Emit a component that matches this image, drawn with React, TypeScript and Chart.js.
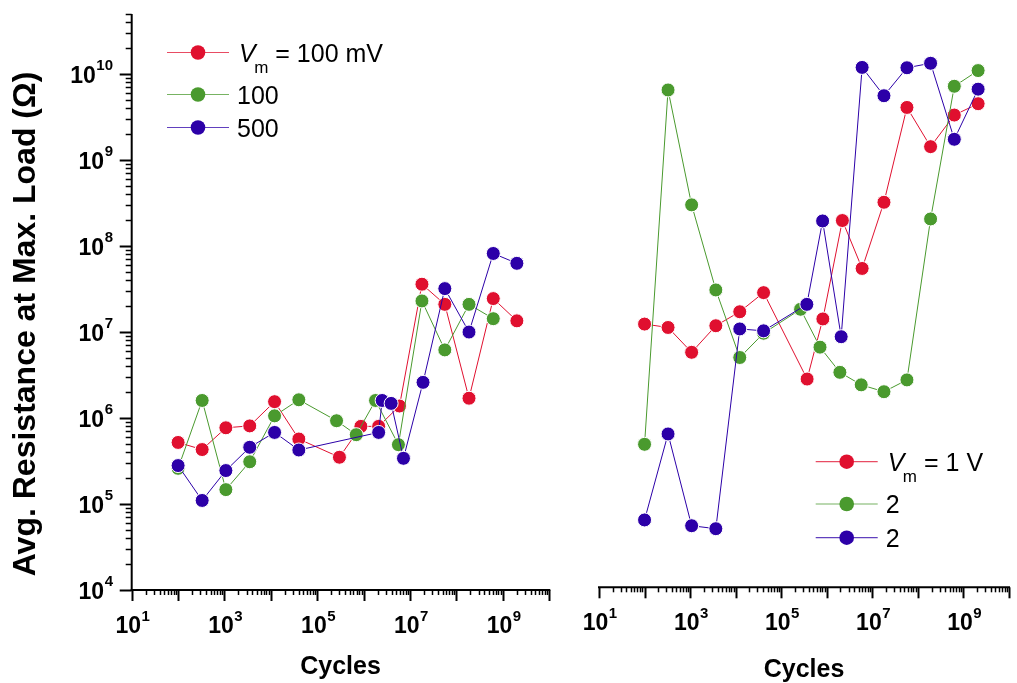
import React, { useEffect, useRef } from "react";
import { Chart, registerables } from "chart.js";

Chart.register(...registerables);

const FONT = '"Liberation Sans", Arial, Helvetica, sans-serif';
const RED = "#E0102F";
const GREEN = "#4A9A2E";
const BLUE = "#2C00A8";

// ---- Left panel: Vm = 100 mV, 100, 500 ----
const leftRedCycles = [100, 330, 1070, 3500, 1.2e4, 4e4, 3e5, 8.7e5, 2.1e6, 5.9e6, 1.8e7, 5.6e7, 1.86e8, 6.2e8, 2e9];
const leftRedValues = [5.2e5, 4.3e5, 7.7e5, 8.1e5, 1.55e6, 5.7e5, 3.5e5, 8e5, 8e5, 1.38e6, 3.6e7, 2.1e7, 1.7e6, 2.45e7, 1.35e7];

const leftGreenCycles = [100, 330, 1070, 3500, 1.2e4, 4e4, 2.6e5, 6.9e5, 1.8e6, 5.6e6, 1.8e7, 5.6e7, 1.86e8, 6.2e8];
const leftGreenValues = [2.6e5, 1.6e6, 1.47e5, 3.1e5, 1.06e6, 1.63e6, 9.3e5, 6.4e5, 1.6e6, 4.9e5, 2.3e7, 6.2e6, 2.1e7, 1.43e7];

const leftBlueCycles = [100, 330, 1070, 3500, 1.2e4, 4e4, 2.1e6, 2.5e6, 3.9e6, 7.2e6, 1.9e7, 5.6e7, 1.86e8, 6.2e8, 2e9];
const leftBlueValues = [2.8e5, 1.1e5, 2.45e5, 4.57e5, 6.8e5, 4.25e5, 6.8e5, 1.6e6, 1.48e6, 3.4e5, 2.6e6, 3.2e7, 1e7, 8.2e7, 6.3e7];

// ---- Right panel: Vm = 1 V, 2, 2 ----
const rightRedCycles = [100, 328, 1080, 3670, 1.23e4, 4.1e4, 3.7e5, 8.2e5, 2.2e6, 5.97e6, 1.8e7, 5.75e7, 1.9e8, 6.3e8, 2.1e9];
const rightRedValues = [1.15e7, 1.05e7, 5.4e6, 1.1e7, 1.6e7, 2.67e7, 2.64e6, 1.32e7, 1.84e8, 5.1e7, 3.0e8, 3.8e9, 1.33e9, 3.1e9, 4.2e9];

const rightGreenCycles = [100, 328, 1080, 3670, 1.23e4, 4.1e4, 2.66e5, 7.1e5, 1.94e6, 5.7e6, 1.8e7, 5.75e7, 1.9e8, 6.3e8, 2.1e9];
const rightGreenValues = [4.6e5, 6.07e9, 2.8e8, 2.87e7, 4.7e6, 9.0e6, 1.71e7, 6.2e6, 3.16e6, 2.26e6, 1.88e6, 2.58e6, 1.92e8, 6.7e9, 1.02e10];

const rightBlueCycles = [100, 328, 1080, 3670, 1.23e4, 4.1e4, 3.65e5, 8.1e5, 2.07e6, 5.97e6, 1.8e7, 5.75e7, 1.9e8, 6.3e8, 2.1e9];
const rightBlueValues = [6.07e4, 6.07e5, 5.2e4, 4.8e4, 1.01e7, 9.6e6, 1.95e7, 1.82e8, 8.2e6, 1.11e10, 5.2e9, 1.1e10, 1.24e10, 1.62e9, 6.2e9];

// axis ranges and tick labels
const X_MIN = 10;
const X_MAX = 1e10;
const Y_MIN = 1e4;
const Y_MAX = 5e10;
const xLabelExponents = [1, 3, 5, 7, 9];
const yLabelExponents = [4, 5, 6, 7, 8, 9, 10];

const leftLegend = [
  { color: RED, main: "= 100 mV", sub: true },
  { color: GREEN, main: "100", sub: false },
  { color: BLUE, main: "500", sub: false },
];
const rightLegend = [
  { color: RED, main: "= 1 V", sub: true },
  { color: GREEN, main: "2", sub: false },
  { color: BLUE, main: "2", sub: false },
];

type PanelOpts = {
  yAxis: boolean;
  legendX: number;
  legendY: number[];
  legend: { color: string; main: string; sub: boolean }[];
  titleBaseline: number;
};

function drawPow(ctx: CanvasRenderingContext2D, exp: number, x: number, baseline: number, align: "center" | "right") {
  const baseFont = `bold 23px ${FONT}`;
  const expFont = `bold 15px ${FONT}`;
  ctx.font = baseFont;
  const bw = ctx.measureText("10").width;
  ctx.font = expFont;
  const es = String(exp);
  const ew = ctx.measureText(es).width;
  const total = bw + ew + 0.5;
  const x0 = align === "center" ? x - total / 2 + 1 : x - total;
  ctx.textAlign = "left";
  ctx.textBaseline = "alphabetic";
  ctx.font = baseFont;
  ctx.fillText("10", x0, baseline);
  ctx.font = expFont;
  ctx.fillText(es, x0 + bw + 0.5, baseline - 12.5);
}

function makePlugin(opts: PanelOpts) {
  return {
    id: "customAxes",
    afterDraw(chart: any) {
      const ctx: CanvasRenderingContext2D = chart.ctx;
      const { left, right, top, bottom } = chart.chartArea;
      const xs = chart.scales.x;
      const ys = chart.scales.y;
      ctx.save();
      ctx.strokeStyle = "#000";
      ctx.fillStyle = "#000";

      // x axis
      ctx.lineWidth = 2;
      ctx.beginPath();
      ctx.moveTo(left - 1, bottom);
      ctx.lineTo(right + 1, bottom);
      ctx.stroke();
      for (let e = 1; e <= 10; e++) {
        for (let m = 1; m <= 9; m++) {
          if (e === 10 && m > 1) break;
          const px = Math.round(xs.getPixelForValue(m * Math.pow(10, e))) + 0.5;
          const len = m === 1 ? 11 : 5;
          ctx.lineWidth = m === 1 ? 2 : 1.5;
          ctx.beginPath();
          ctx.moveTo(px, bottom);
          ctx.lineTo(px, bottom + len);
          ctx.stroke();
        }
      }
      for (const e of xLabelExponents) {
        const px = xs.getPixelForValue(Math.pow(10, e));
        drawPow(ctx, e, px, bottom + 43, "center");
      }
      // x title
      ctx.font = `bold 25px ${FONT}`;
      ctx.textAlign = "center";
      ctx.textBaseline = "alphabetic";
      ctx.fillText("Cycles", (left + right) / 2, opts.titleBaseline);

      if (opts.yAxis) {
        ctx.lineWidth = 2;
        ctx.beginPath();
        ctx.moveTo(left, bottom + 1);
        ctx.lineTo(left, top);
        ctx.stroke();
        for (let e = 4; e <= 10; e++) {
          for (let m = 1; m <= 9; m++) {
            const v = m * Math.pow(10, e);
            if (v > Y_MAX) break;
            const py = Math.round(ys.getPixelForValue(v)) + 0.5;
            const len = m === 1 ? 12 : 6;
            ctx.lineWidth = m === 1 ? 2 : 1.5;
            ctx.beginPath();
            ctx.moveTo(left, py);
            ctx.lineTo(left - len, py);
            ctx.stroke();
          }
        }
        for (const e of yLabelExponents) {
          const py = ys.getPixelForValue(Math.pow(10, e));
          drawPow(ctx, e, 113, py + 8.5, "right");
        }
        // y title
        ctx.save();
        ctx.translate(35, (top + bottom) / 2 + 22);
        ctx.rotate(-Math.PI / 2);
        ctx.font = `bold 32px ${FONT}`;
        ctx.textAlign = "center";
        ctx.textBaseline = "alphabetic";
        ctx.fillText("Avg. Resistance at Max. Load (\u03A9)", 0, 0);
        ctx.restore();
      }

      // legend
      opts.legend.forEach((item, i) => {
        const y = opts.legendY[i];
        const x0 = opts.legendX;
        ctx.strokeStyle = item.color;
        ctx.globalAlpha = 0.75;
        ctx.lineWidth = 1.2;
        ctx.beginPath();
        ctx.moveTo(x0, y);
        ctx.lineTo(x0 + 62, y);
        ctx.stroke();
        ctx.globalAlpha = 1;
        ctx.fillStyle = item.color;
        ctx.beginPath();
        ctx.arc(x0 + 31, y, 7.3, 0, Math.PI * 2);
        ctx.fill();
        ctx.fillStyle = "#000";
        ctx.textAlign = "left";
        ctx.textBaseline = "alphabetic";
        if (item.sub) {
          let tx = x0 + 72;
          ctx.font = `italic 25px ${FONT}`;
          ctx.fillText("V", tx, y + 9);
          tx += ctx.measureText("V").width - 1.5;
          ctx.font = `17px ${FONT}`;
          ctx.fillText("m", tx, y + 20);
          tx += ctx.measureText("m").width;
          ctx.font = `25px ${FONT}`;
          ctx.fillText(" " + item.main, tx, y + 9);
        } else {
          ctx.font = `25px ${FONT}`;
          ctx.fillText(item.main, x0 + 70, y + 9);
        }
      });
      ctx.restore();
    },
  };
}

function ds(label: string, xs: number[], ys: number[], color: string, order: number) {
  return {
    label,
    data: xs.map((x, i) => ({ x, y: ys[i] })),
    borderColor: color,
    backgroundColor: color,
    borderWidth: 1,
    pointRadius: 7,
    pointBorderWidth: 1,
    pointBorderColor: "#ffffff",
    pointBackgroundColor: color,
    showLine: true,
    tension: 0,
    order,
  };
}

function makeConfig(datasets: any[], padding: any, opts: PanelOpts) {
  return {
    type: "scatter" as const,
    data: { datasets },
    options: {
      animation: false as const,
      responsive: false,
      devicePixelRatio: 1,
      layout: { padding },
      plugins: { legend: { display: false }, tooltip: { enabled: false } },
      scales: {
        x: { type: "logarithmic" as const, min: X_MIN, max: X_MAX, display: false },
        y: { type: "logarithmic" as const, min: Y_MIN, max: Y_MAX, display: false },
      },
    },
    plugins: [makePlugin(opts)],
  };
}

export default function App() {
  const leftRef = useRef<HTMLCanvasElement>(null);
  const rightRef = useRef<HTMLCanvasElement>(null);

  useEffect(() => {
    document.body.style.margin = "0";
    const left = new Chart(
      leftRef.current!,
      makeConfig(
        [
          ds("Vm = 100 mV", leftRedCycles, leftRedValues, RED, 2),
          ds("100", leftGreenCycles, leftGreenValues, GREEN, 1),
          ds("500", leftBlueCycles, leftBlueValues, BLUE, 0),
        ],
        { left: 131.7, right: 10.7, top: 14, bottom: 93 },
        {
          yAxis: true,
          legendX: 167,
          legendY: [52.5, 94.5, 127.5],
          legend: leftLegend,
          titleBaseline: 674,
        }
      ) as any
    );
    const right = new Chart(
      rightRef.current!,
      makeConfig(
        [
          ds("Vm = 1 V", rightRedCycles, rightRedValues, RED, 2),
          ds("2", rightGreenCycles, rightGreenValues, GREEN, 1),
          ds("2 ", rightBlueCycles, rightBlueValues, BLUE, 0),
        ],
        { left: 39, right: 0.5, top: 11.2, bottom: 95.7 },
        {
          yAxis: false,
          legendX: 255.7,
          legendY: [461.7, 504, 537.7],
          legend: rightLegend,
          titleBaseline: 677,
        }
      ) as any
    );
    return () => {
      left.destroy();
      right.destroy();
    };
  }, []);

  return (
    <div style={{ position: "absolute", left: 0, top: 0, width: 1017, height: 683, background: "#fff" }}>
      <canvas ref={leftRef} width={560} height={683} style={{ position: "absolute", left: 0, top: 0, width: 560, height: 683 }} />
      <canvas ref={rightRef} width={457} height={683} style={{ position: "absolute", left: 560, top: 0, width: 457, height: 683 }} />
    </div>
  );
}
